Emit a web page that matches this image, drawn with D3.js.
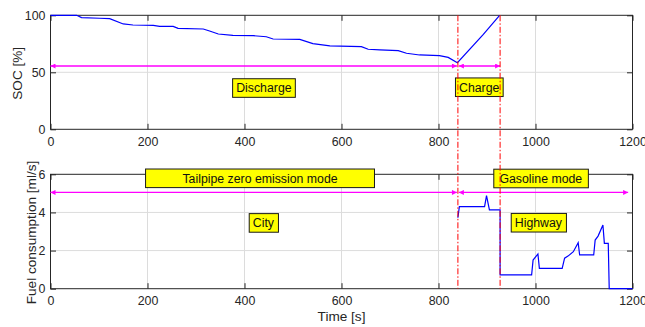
<!DOCTYPE html>
<html>
<head>
<meta charset="utf-8">
<script src="https://cdn.jsdelivr.net/npm/d3@7"></script>
<style>
  body { margin: 0; background: #fff; }
  svg { font-family: "Liberation Sans", Arial, sans-serif; }
</style>
</head>
<body>
<div id="chart"></div>
<script>
const width = 645;
const height = 327;
const fontFamily = '"Liberation Sans", Arial, sans-serif';

// SOC trace (top panel)
const socTime  = [0, 54, 64, 101, 122, 150, 170, 212, 225, 253, 263, 315, 328, 346, 376, 418, 445, 459, 514, 541, 576, 641, 655, 679, 717, 734, 761, 802, 820, 839, 892, 926];
const socValue = [100, 100, 98, 97.4, 97, 92.4, 91.5, 91.2, 90.3, 90.3, 88.6, 88, 86.2, 83.6, 82.4, 82.1, 81.2, 79.2, 78.9, 75.1, 73.1, 72.5, 70.2, 69.6, 69, 66.7, 65.2, 64.6, 63.1, 58.4, 83, 100];

// fuel consumption trace (bottom panel)
const fuelTime  = [840, 843, 895, 899, 905, 927, 927, 992, 995, 1005, 1008, 1055, 1060, 1067, 1078, 1088, 1091, 1120, 1123, 1129, 1139, 1142, 1150, 1152, 1200];
const fuelValue = [3.72, 4.3, 4.3, 4.88, 4.13, 4.13, 0.72, 0.72, 1.5, 1.82, 1.07, 1.07, 1.6, 1.71, 1.94, 2.41, 1.77, 1.77, 2.55, 2.76, 3.34, 2.38, 2.38, 0, 0];

const xTicks = [0, 200, 400, 600, 800, 1000, 1200];
const socTicks = [0, 50, 100];
const fuelTicks = [0, 2, 4, 6];

// mode switch instants
const switchTimes = [840, 927];

// arrows: [from, to, level]
const socArrows = [[0, 838, 55.5], [842, 927, 55.5]];
const fuelArrows = [[0, 838, 5.05], [842, 1191, 5.05]];

// text boxes: label, x centre, y centre, optional fixed x-extent
const socNotes = [
  {text: 'Discharge', x: 440, y: 36.2},
  {text: 'Charge', x: 884, y: 36.9}
];
const fuelNotes = [
  {text: 'Tailpipe zero emission mode', x: 432, y: 5.79, x0: 196, x1: 668},
  {text: 'Gasoline mode', x: 1011, y: 5.78, x0: 914, x1: 1109},
  {text: 'City', x: 439, y: 3.45},
  {text: 'Highway', x: 1006, y: 3.46}
];

const svg = d3.select('#chart')
  .append('svg')
  .attr('width', width)
  .attr('height', height);

const defs = svg.append('defs');
defs.append('marker')
  .attr('id', 'head')
  .attr('viewBox', '0 0 10 10')
  .attr('refX', 10)
  .attr('refY', 5)
  .attr('markerWidth', 6)
  .attr('markerHeight', 5)
  .attr('markerUnits', 'userSpaceOnUse')
  .attr('orient', 'auto-start-reverse')
  .append('path')
  .attr('d', 'M0,0L10,5L0,10Z')
  .attr('fill', '#ff00ff');

const x = d3.scaleLinear().domain([0, 1200]).range([50.5, 632.5]);
const ySoc = d3.scaleLinear().domain([0, 100]).range([129.3, 15.3]);
const yFuel = d3.scaleLinear().domain([0, 6]).range([288.7, 174.3]);

const textColor = '#262626';
const fmt = d3.format('d');

function panel(y, yTicks, yLabel, labelX) {
  const g = svg.append('g');
  const [y0, y1] = y.range();

  // grid
  g.append('g').selectAll('line')
    .data(xTicks.slice(1, -1))
    .join('line')
    .attr('x1', d => x(d)).attr('x2', d => x(d))
    .attr('y1', y0).attr('y2', y1)
    .attr('stroke', '#dcdcdc').attr('stroke-width', 1);
  g.append('g').selectAll('line')
    .data(yTicks.slice(1, -1))
    .join('line')
    .attr('x1', x(0)).attr('x2', x(1200))
    .attr('y1', d => y(d)).attr('y2', d => y(d))
    .attr('stroke', '#dcdcdc').attr('stroke-width', 1);

  // axes with inward ticks
  const axes = [
    g.append('g').attr('transform', `translate(0,${y0})`)
      .call(d3.axisBottom(x).tickValues(xTicks).tickFormat(fmt).tickSizeInner(-5.5).tickSizeOuter(0).tickPadding(8)),
    g.append('g').attr('transform', `translate(0,${y1})`)
      .call(d3.axisTop(x).tickValues(xTicks).tickSizeInner(-5.5).tickSizeOuter(0).tickFormat('')),
    g.append('g').attr('transform', `translate(${x(0)},0)`)
      .call(d3.axisLeft(y).tickValues(yTicks).tickFormat(fmt).tickSizeInner(-5.5).tickSizeOuter(0).tickPadding(5)),
    g.append('g').attr('transform', `translate(${x(1200)},0)`)
      .call(d3.axisRight(y).tickValues(yTicks).tickSizeInner(-5.5).tickSizeOuter(0).tickFormat(''))
  ];
  axes.forEach(a => {
    a.attr('font-family', fontFamily).attr('font-size', 12.4);
    a.select('.domain').remove();
    a.selectAll('line').attr('stroke', textColor);
    a.selectAll('text').attr('fill', textColor);
  });

  g.append('rect')
    .attr('x', x(0)).attr('y', y1)
    .attr('width', x(1200) - x(0)).attr('height', y0 - y1)
    .attr('fill', 'none').attr('stroke', textColor).attr('stroke-width', 1);

  g.append('text')
    .attr('transform', `translate(${labelX},${(y0 + y1) / 2 + 1}) rotate(-90)`)
    .attr('text-anchor', 'middle')
    .attr('dy', '0.35em')
    .attr('fill', textColor)
    .style('font-size', '13.6px')
    .text(yLabel);
  return g;
}

function arrows(g, y, list) {
  g.selectAll(null)
    .data(list)
    .join('line')
    .attr('x1', d => x(d[0])).attr('x2', d => x(d[1]))
    .attr('y1', d => y(d[2])).attr('y2', d => y(d[2]))
    .attr('stroke', '#ff00ff').attr('stroke-width', 1.4)
    .attr('marker-start', 'url(#head)')
    .attr('marker-end', 'url(#head)');
}

function notes(g, y, list) {
  const n = g.selectAll(null).data(list).join('g');
  n.append('text')
    .attr('x', d => x(d.x))
    .attr('y', d => y(d.y))
    .attr('dy', '0.35em')
    .attr('text-anchor', 'middle')
    .attr('fill', '#111')
    .style('font-size', '12.3px')
    .text(d => d.text);
  n.each(function(d) {
    const t = d3.select(this).select('text');
    const b = t.node().getBBox();
    const left = d.x0 != null ? x(d.x0) : b.x - 3.6;
    const right = d.x1 != null ? x(d.x1) : b.x + b.width + 3.6;
    d3.select(this).insert('rect', 'text')
      .attr('x', left).attr('y', y(d.y) - 9.3)
      .attr('width', right - left).attr('height', 18.6)
      .attr('fill', '#ffff00').attr('stroke', '#1a1a1a').attr('stroke-width', 1);
  });
}

const socPanel = panel(ySoc, socTicks, 'SOC [%]', 17.5);
const fuelPanel = panel(yFuel, fuelTicks, 'Fuel consumption [ml/s]', 31);

const socLine = d3.line().x(d => x(d[0])).y(d => ySoc(d[1]));
socPanel.append('path')
  .datum(socTime.map((t, i) => [t, socValue[i]]))
  .attr('d', socLine)
  .attr('fill', 'none').attr('stroke', '#0000ff').attr('stroke-width', 1.2);

const fuelLine = d3.line().x(d => x(d[0])).y(d => yFuel(d[1]));
fuelPanel.append('path')
  .datum(fuelTime.map((t, i) => [t, fuelValue[i]]))
  .attr('d', fuelLine)
  .attr('fill', 'none').attr('stroke', '#0000ff').attr('stroke-width', 1.2);

arrows(socPanel, ySoc, socArrows);
arrows(fuelPanel, yFuel, fuelArrows);

// red dash-dot separators spanning both panels
svg.append('g').selectAll('line')
  .data(switchTimes)
  .join('line')
  .attr('x1', d => x(d)).attr('x2', d => x(d))
  .attr('y1', ySoc(100)).attr('y2', yFuel(0))
  .attr('stroke', '#ff0000').attr('stroke-width', 1)
  .attr('stroke-dasharray', '6,2,1.5,2');

notes(socPanel, ySoc, socNotes);
notes(fuelPanel, yFuel, fuelNotes);

svg.append('text')
  .attr('x', (x(0) + x(1200)) / 2)
  .attr('y', 320.5)
  .attr('text-anchor', 'middle')
  .attr('fill', textColor)
  .style('font-size', '13.6px')
  .text('Time [s]');
</script>
</body>
</html>
